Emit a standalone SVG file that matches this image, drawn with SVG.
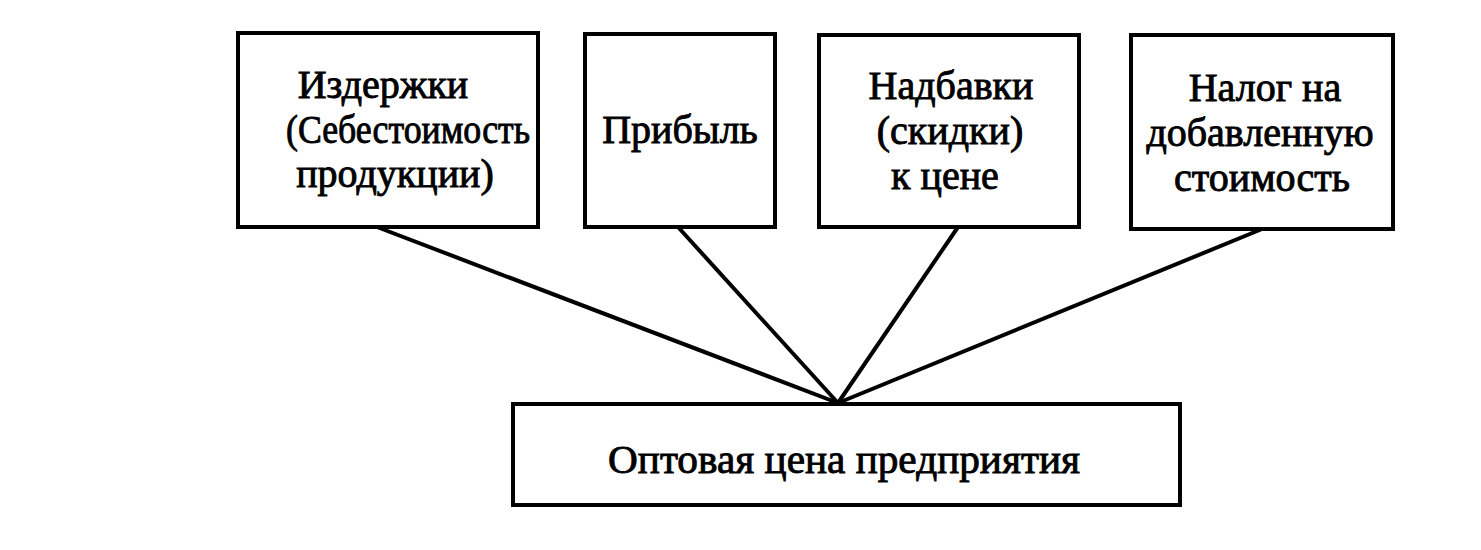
<svg xmlns="http://www.w3.org/2000/svg" width="1481" height="550" viewBox="0 0 1481 550">
<style>
.box{fill:#fff;stroke:#000;stroke-width:4}
.lbl{font-family:'Liberation Serif','DejaVu Serif',serif;font-size:40px;fill:#000;text-anchor:middle;stroke:#000;stroke-width:0.9}
.con{stroke:#000;stroke-width:4;fill:none}
</style>
<rect x="0" y="0" width="1481" height="550" fill="#fff"/>
<g id="connectors">
<line class="con" x1="377" y1="227" x2="838" y2="403"/>
<line class="con" x1="678" y1="227" x2="838" y2="403"/>
<line class="con" x1="958" y1="227" x2="838" y2="403"/>
<line class="con" x1="1262" y1="229" x2="838" y2="403"/>
</g>
<g id="izderzhki">
<rect class="box" x="238" y="33" width="300" height="194"/>
<text class="lbl" x="383" y="98">Издержки</text>
<text class="lbl" x="408" y="143" textLength="244" lengthAdjust="spacingAndGlyphs">(Себестоимость</text>
<text class="lbl" x="395" y="187">продукции)</text>
</g>
<g id="pribyl">
<rect class="box" x="585" y="34" width="190" height="193"/>
<text class="lbl" x="680" y="143">Прибыль</text>
</g>
<g id="nadbavki">
<rect class="box" x="819" y="35" width="260" height="192"/>
<text class="lbl" x="951" y="99">Надбавки</text>
<text class="lbl" x="950" y="144">(скидки)</text>
<text class="lbl" x="945" y="189">к цене</text>
</g>
<g id="nalog">
<rect class="box" x="1131" y="35" width="262" height="194"/>
<text class="lbl" x="1265" y="101">Налог на</text>
<text class="lbl" x="1260" y="146">добавленную</text>
<text class="lbl" x="1262" y="191">стоимость</text>
</g>
<g id="optovaya">
<rect class="box" x="513" y="404" width="667" height="101"/>
<text class="lbl" x="844" y="473" textLength="472" lengthAdjust="spacingAndGlyphs">Оптовая цена предприятия</text>
</g>
</svg>
